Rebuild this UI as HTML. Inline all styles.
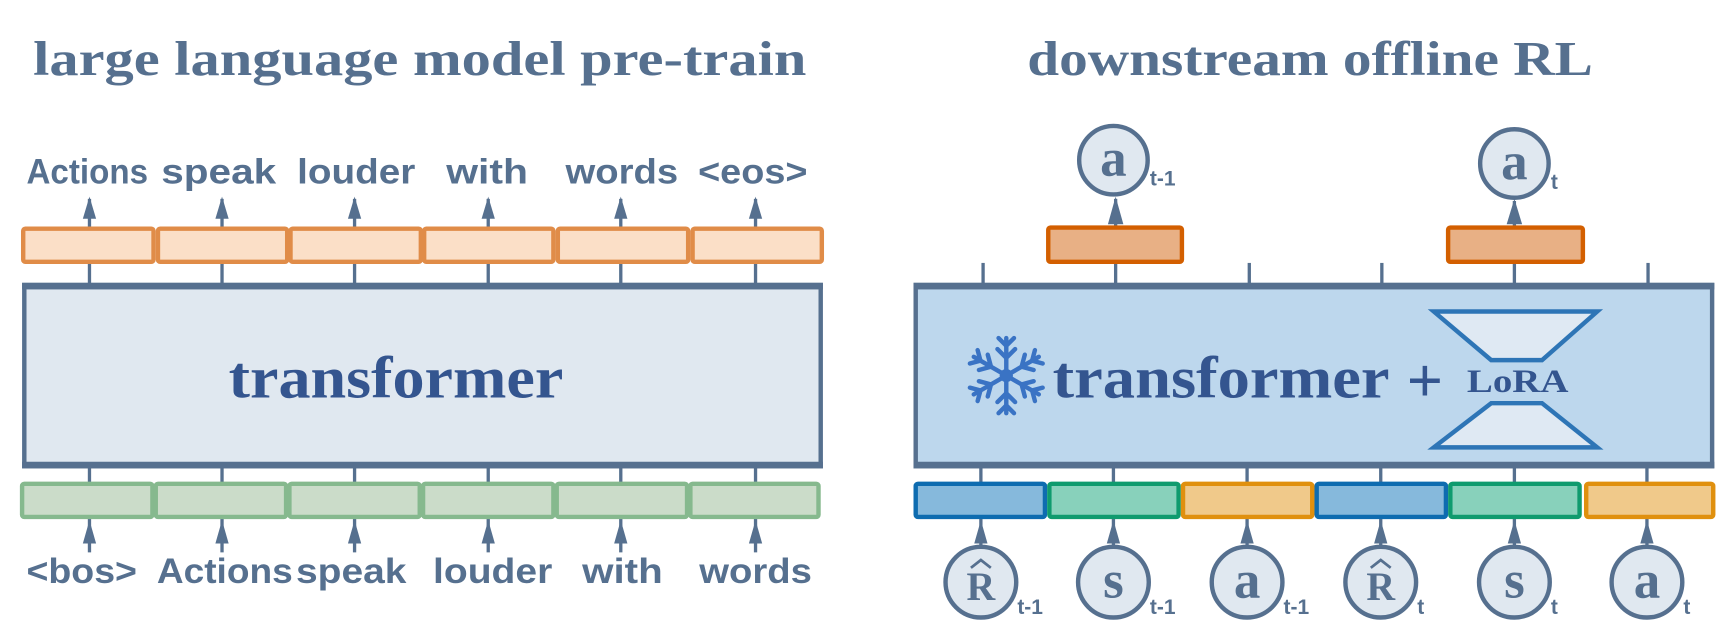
<!DOCTYPE html>
<html><head><meta charset="utf-8"><style>
html,body{margin:0;padding:0;background:#fff;}
svg{display:block;}
.t{font-family:"Liberation Serif",serif;font-weight:bold;fill:#56708f;}
.s{font-family:"Liberation Sans",sans-serif;font-weight:bold;fill:#56708f;}
</style></head><body>
<svg width="1732" height="630" viewBox="0 0 1568 570.3" xmlns="http://www.w3.org/2000/svg">
<!-- titles -->
<text class="t" x="30" y="68" font-size="44" textLength="700" lengthAdjust="spacingAndGlyphs">large language model pre-train</text>
<text class="t" x="930" y="68" font-size="44" textLength="512" lengthAdjust="spacingAndGlyphs">downstream offline RL</text>

<!-- LEFT -->
<g class="s" font-size="32" lengthAdjust="spacingAndGlyphs">
<text x="24" y="166" textLength="110" lengthAdjust="spacingAndGlyphs">Actions</text>
<text x="146" y="166" textLength="104" lengthAdjust="spacingAndGlyphs">speak</text>
<text x="269" y="166" textLength="107" lengthAdjust="spacingAndGlyphs">louder</text>
<text x="404" y="166" textLength="74" lengthAdjust="spacingAndGlyphs">with</text>
<text x="512" y="166" textLength="102" lengthAdjust="spacingAndGlyphs">words</text>
<text x="632" y="166" textLength="99" lengthAdjust="spacingAndGlyphs">&lt;eos&gt;</text>
<text x="24" y="528" textLength="100" lengthAdjust="spacingAndGlyphs">&lt;bos&gt;</text>
<text x="142" y="528" textLength="123" lengthAdjust="spacingAndGlyphs">Actions</text>
<text x="268" y="528" textLength="100" lengthAdjust="spacingAndGlyphs">speak</text>
<text x="392" y="528" textLength="108" lengthAdjust="spacingAndGlyphs">louder</text>
<text x="527" y="528" textLength="73" lengthAdjust="spacingAndGlyphs">with</text>
<text x="633" y="528" textLength="102" lengthAdjust="spacingAndGlyphs">words</text>
</g>
<g stroke="#56708f" stroke-width="3">
<line x1="81" y1="257" x2="81" y2="180"/><line x1="201" y1="257" x2="201" y2="180"/><line x1="321" y1="257" x2="321" y2="180"/><line x1="442" y1="257" x2="442" y2="180"/><line x1="562" y1="257" x2="562" y2="180"/><line x1="684" y1="257" x2="684" y2="180"/>
<line x1="81" y1="422" x2="81" y2="500"/><line x1="201" y1="422" x2="201" y2="500"/><line x1="321" y1="422" x2="321" y2="500"/><line x1="442" y1="422" x2="442" y2="500"/><line x1="562" y1="422" x2="562" y2="500"/><line x1="684" y1="422" x2="684" y2="500"/>
</g>
<g fill="#56708f">
<path d="M75,198 L81,178 L87,198 z"/><path d="M195,198 L201,178 L207,198 z"/><path d="M315,198 L321,178 L327,198 z"/><path d="M436,198 L442,178 L448,198 z"/><path d="M556,198 L562,178 L568,198 z"/><path d="M678,198 L684,178 L690,198 z"/>
<path d="M75,492 L81,471 L87,492 z"/><path d="M195,492 L201,471 L207,492 z"/><path d="M315,492 L321,471 L327,492 z"/><path d="M436,492 L442,471 L448,492 z"/><path d="M556,492 L562,471 L568,492 z"/><path d="M678,492 L684,471 L690,492 z"/>
</g>
<g fill="#fbdfc7" stroke="#e08c48" stroke-width="4">
<rect x="21" y="207" width="118" height="30" rx="2"/><rect x="143" y="207" width="117" height="30" rx="2"/><rect x="263" y="207" width="118" height="30" rx="2"/><rect x="384" y="207" width="117" height="30" rx="2"/><rect x="505" y="207" width="118" height="30" rx="2"/><rect x="627" y="207" width="117" height="30" rx="2"/>
</g>
<g fill="#cbdcc9" stroke="#86b98e" stroke-width="4">
<rect x="20" y="438" width="118" height="30" rx="2"/><rect x="141" y="438" width="118" height="30" rx="2"/><rect x="262" y="438" width="118" height="30" rx="2"/><rect x="383" y="438" width="118" height="30" rx="2"/><rect x="504" y="438" width="118" height="30" rx="2"/><rect x="625" y="438" width="116" height="30" rx="2"/>
</g>
<rect x="22" y="258" width="721" height="164" fill="#e0e8f0" stroke="#56708f" stroke-width="4"/>
<rect x="20" y="256" width="725" height="6" fill="#56708f"/>
<rect x="20" y="418" width="725" height="6" fill="#56708f"/>
<text class="t" x="207" y="360" font-size="54" textLength="303" lengthAdjust="spacingAndGlyphs" style="fill:#34558f">transformer</text>

<!-- RIGHT -->
<g stroke="#56708f" stroke-width="3">
<line x1="890" y1="238" x2="890" y2="257"/><line x1="1131" y1="238" x2="1131" y2="257"/><line x1="1251" y1="238" x2="1251" y2="257"/><line x1="1492" y1="238" x2="1492" y2="257"/>
<line x1="1010" y1="257" x2="1010" y2="180"/><line x1="1371" y1="257" x2="1371" y2="182"/>
<line x1="888" y1="422" x2="888" y2="500"/><line x1="1008" y1="422" x2="1008" y2="500"/><line x1="1129" y1="422" x2="1129" y2="500"/><line x1="1250" y1="422" x2="1250" y2="500"/><line x1="1371" y1="422" x2="1371" y2="500"/><line x1="1491" y1="422" x2="1491" y2="500"/>
</g>
<g fill="#56708f">
<path d="M1003,203 L1010,178 L1017,203 z"/><path d="M1364,203 L1371,180 L1378,203 z"/>
<path d="M882,492 L888,471 L894,492 z"/><path d="M1002,492 L1008,471 L1014,492 z"/><path d="M1123,492 L1129,471 L1135,492 z"/><path d="M1244,492 L1250,471 L1256,492 z"/><path d="M1365,492 L1371,471 L1377,492 z"/><path d="M1485,492 L1491,471 L1497,492 z"/>
</g>
<g fill="#e8b085" stroke="#d35f00" stroke-width="4">
<rect x="949" y="206" width="121" height="31" rx="2"/><rect x="1311" y="206" width="122" height="31" rx="2"/>
</g>
<rect x="829" y="258" width="721" height="164" fill="#bdd7ed" stroke="#56708f" stroke-width="4"/>
<rect x="827" y="256" width="725" height="6" fill="#56708f"/>
<rect x="827" y="418" width="725" height="6" fill="#56708f"/>
<!-- snowflake -->
<g stroke="#3a73c4" stroke-width="4" stroke-linecap="round" fill="none" transform="translate(911,340)">
<g id="arm"><line x1="0" y1="0" x2="0" y2="-34"/><polyline points="-8,-24 0,-16 8,-24"/><polyline points="-7,-34 0,-27 7,-34"/></g>
<use href="#arm" transform="rotate(60)"/><use href="#arm" transform="rotate(120)"/><use href="#arm" transform="rotate(180)"/><use href="#arm" transform="rotate(240)"/><use href="#arm" transform="rotate(300)"/>
</g>
<circle cx="911" cy="340" r="6" fill="#3a73c4"/>
<text class="t" x="953" y="360" font-size="54" textLength="305" lengthAdjust="spacingAndGlyphs" style="fill:#34558f">transformer</text>
<text class="t" x="1290" y="364" font-size="58" text-anchor="middle" style="fill:#34558f">+</text>
<text class="t" x="1328" y="355" font-size="30" textLength="92" lengthAdjust="spacingAndGlyphs" style="fill:#34558f">LoRA</text>
<g fill="#dfe9f3" stroke="#2e75b6" stroke-width="4" stroke-linejoin="miter">
<path d="M1298,282 L1446,282 L1396,326 L1350,326 z"/>
<path d="M1350,365 L1396,365 L1446,405 L1298,405 z"/>
</g>
<rect x="829" y="438" width="117" height="30" fill="#86b9dc" stroke="#0e6cb0" stroke-width="4" rx="2"/>
<rect x="950" y="438" width="117" height="30" fill="#88d1bb" stroke="#0f9b6e" stroke-width="4" rx="2"/>
<rect x="1071" y="438" width="117" height="30" fill="#f0c98a" stroke="#e0900e" stroke-width="4" rx="2"/>
<rect x="1192" y="438" width="117" height="30" fill="#86b9dc" stroke="#0e6cb0" stroke-width="4" rx="2"/>
<rect x="1313" y="438" width="117" height="30" fill="#88d1bb" stroke="#0f9b6e" stroke-width="4" rx="2"/>
<rect x="1436" y="438" width="115" height="30" fill="#f0c98a" stroke="#e0900e" stroke-width="4" rx="2"/>
<!-- circles -->
<g fill="#e0e8f0" stroke="#56708f" stroke-width="4">
<circle cx="1008" cy="145" r="31"/><circle cx="1371" cy="148" r="31"/>
<circle cx="888" cy="527" r="32"/><circle cx="1008" cy="527" r="32"/><circle cx="1129" cy="527" r="32"/><circle cx="1250" cy="527" r="32"/><circle cx="1371" cy="527" r="32"/><circle cx="1491" cy="527" r="32"/>
</g>
<g class="t" text-anchor="middle">
<text x="1008" y="159" font-size="48">a</text><text x="1371" y="162" font-size="48">a</text>
<text x="888" y="543" font-size="36">R</text>
<text x="1008" y="541" font-size="48">s</text>
<text x="1129" y="541" font-size="48">a</text>
<text x="1250" y="543" font-size="36">R</text>
<text x="1371" y="541" font-size="48">s</text>
<text x="1491" y="541" font-size="48">a</text>
</g>
<g fill="none" stroke="#56708f" stroke-width="2.5">
<polyline points="879,514 888,507 897,514"/>
<polyline points="1241,514 1250,507 1259,514"/>
</g>
<g class="s" font-size="19">
<text x="1041" y="168">t-1</text><text x="1404" y="171">t</text>
<text x="921" y="556">t-1</text><text x="1041" y="556">t-1</text><text x="1162" y="556">t-1</text>
<text x="1283" y="556">t</text><text x="1404" y="556">t</text><text x="1524" y="556">t</text>
</g>
</svg>
</body></html>
